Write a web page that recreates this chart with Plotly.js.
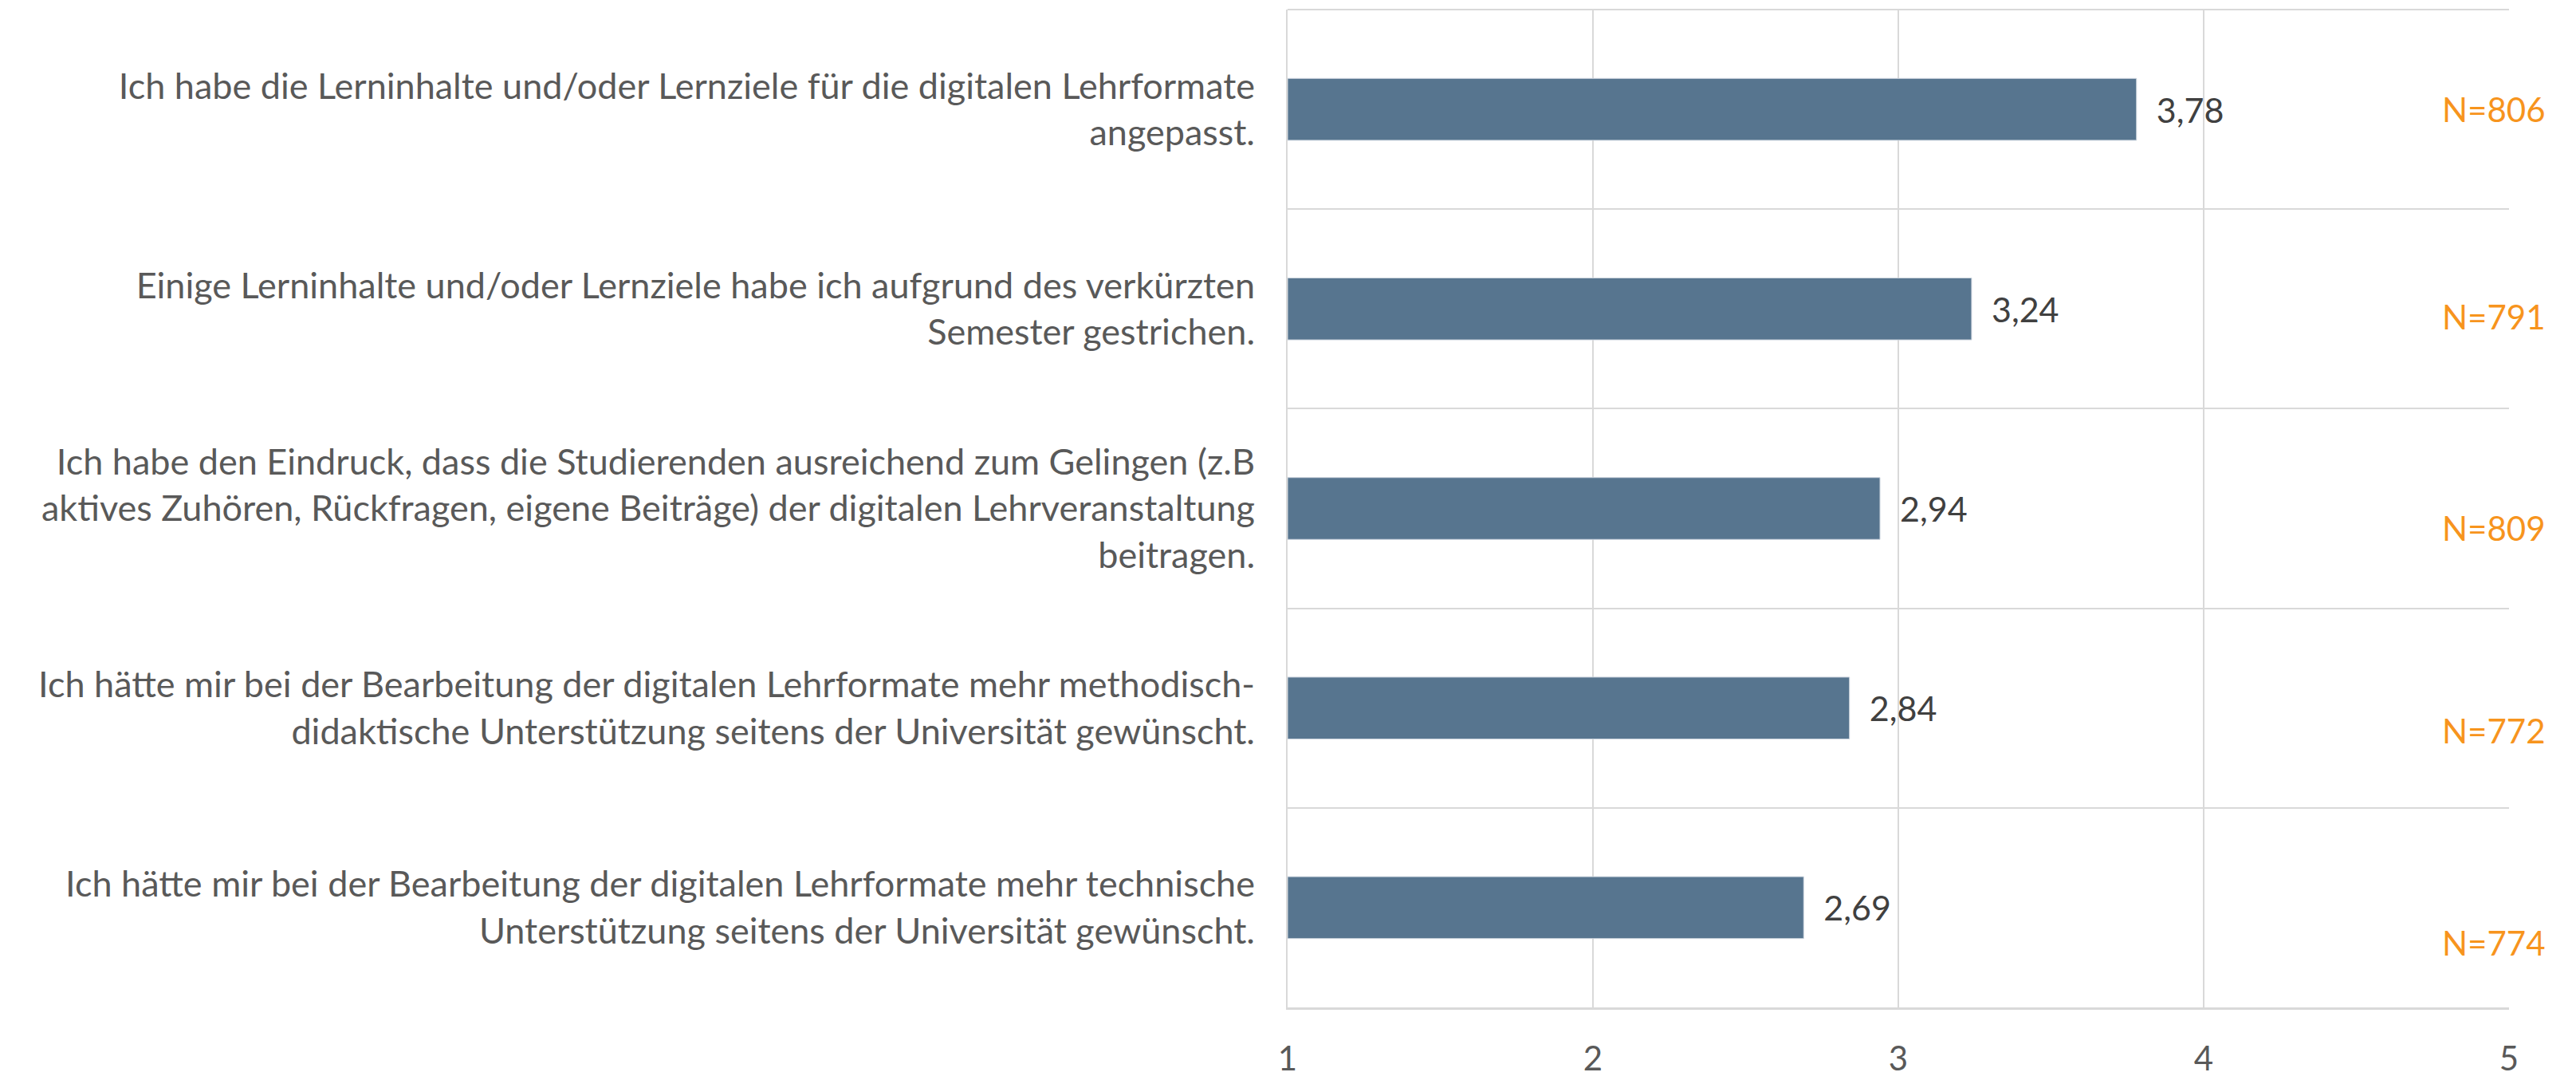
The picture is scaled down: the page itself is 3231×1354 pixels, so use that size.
<!DOCTYPE html>
<html>
<head>
<meta charset="utf-8">
<script src="https://cdn.plot.ly/plotly-3.0.1.min.js"></script>
<style>html,body{margin:0;padding:0;background:#fff;}#chart{width:3231px;height:1354px;}</style>
</head>
<body>
<div id="chart"></div>
<script>
const categories = [
  "Ich habe die Lerninhalte und/oder Lernziele für die digitalen Lehrformate<br>angepasst.",
  "Einige Lerninhalte und/oder Lernziele habe ich aufgrund des verkürzten<br>Semester gestrichen.",
  "Ich habe den Eindruck, dass die Studierenden ausreichend zum Gelingen (z.B<br>aktives Zuhören, Rückfragen, eigene Beiträge) der digitalen Lehrveranstaltung<br>beitragen.",
  "Ich hätte mir bei der Bearbeitung der digitalen Lehrformate mehr methodisch-<br>didaktische Unterstützung seitens der Universität gewünscht.",
  "Ich hätte mir bei der Bearbeitung der digitalen Lehrformate mehr technische<br>Unterstützung seitens der Universität gewünscht."
];
const means = [3.78, 3.24, 2.94, 2.84, 2.69];
const nValues = [806, 791, 809, 772, 774];
const xTicks = [1, 2, 3, 4, 5];

const FONT = "Lato, 'Open Sans', sans-serif";
const nShift = [0, -10, -24, -28, -44];

const trace = {
  type: 'bar',
  orientation: 'h',
  y: categories,
  x: means.map(v => v - 1),
  base: 1,
  width: 0.31,
  marker: {color: '#57758F', line: {color: '#cdd5de', width: 1}},
  text: means.map(v => '\u00a0\u00a0' + v.toFixed(2).replace('.', ',')),
  textposition: 'outside',
  textfont: {family: FONT, size: 43, color: '#404040'},
  cliponaxis: false,
  hoverinfo: 'none'
};

const annotations = nValues.map((n, i) => ({
  xref: 'x', yref: 'y',
  x: 4.95, y: categories[i],
  yshift: nShift[i],
  text: 'N=' + n,
  showarrow: false,
  xanchor: 'center',
  font: {family: FONT, size: 42, color: '#F7941D'}
}));

const layout = {
  width: 3231, height: 1354,
  margin: {l: 1615, r: 84, t: 12, b: 91},
  paper_bgcolor: '#ffffff',
  plot_bgcolor: '#ffffff',
  showlegend: false,
  separators: ',.',
  font: {family: FONT, color: '#595959'},
  xaxis: {
    range: [1, 5],
    tickvals: xTicks,
    ticktext: xTicks.map(String),
    showgrid: true,
    gridcolor: '#d9d9d9',
    gridwidth: 2,
    zeroline: false,
    showline: true,
    linecolor: '#d9d9d9',
    linewidth: 3,
    ticks: '',
    ticklabelstandoff: 26,
    tickfont: {family: FONT, size: 42, color: '#595959'}
  },
  yaxis: {
    type: 'category',
    autorange: 'reversed',
    tickson: 'boundaries',
    showgrid: true,
    gridcolor: '#d9d9d9',
    gridwidth: 2,
    zeroline: false,
    showline: true,
    linecolor: '#d9d9d9',
    linewidth: 2,
    ticks: '',
    ticklabelstandoff: 30,
    tickfont: {family: FONT, size: 45, color: '#595959'}
  },
  shapes: [{
    type: 'line', xref: 'paper', yref: 'paper',
    x0: 0, x1: 1, y0: 1, y1: 1,
    line: {color: '#d9d9d9', width: 2}
  }],
  annotations: annotations
};

Plotly.newPlot('chart', [trace], layout, {displayModeBar: false, staticPlot: true});
</script>
</body>
</html>
